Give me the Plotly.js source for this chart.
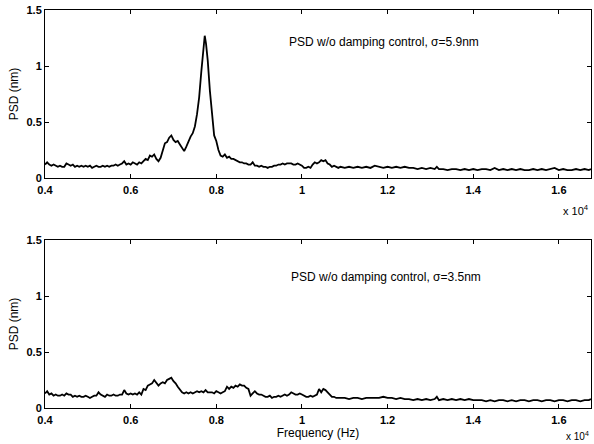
<!DOCTYPE html>
<html>
<head>
<meta charset="utf-8">
<script src="https://cdn.plot.ly/plotly-3.0.1.min.js"></script>
<style>
  html, body { margin: 0; padding: 0; background: #fff; }
  #chart { width: 594px; height: 444px; }
</style>
</head>
<body>
<div id="chart"></div>
<script>
// Frequency grid (Hz) and PSD values (nm) for the two spectra
const freqTop = [4000,4050,4100,4150,4200,4250,4300,4350,4400,4450,4500,4550,4600,4650,4700,4750,4800,4850,4900,4950,
  5000,5050,5100,5150,5200,5250,5300,5350,5400,5450,5500,5550,5600,5650,5700,5750,5800,5850,5900,5950,
  6000,6050,6100,6150,6200,6250,6300,6350,6400,6450,6500,6550,6600,6650,6700,6750,6800,6850,6900,6950,
  7000,7050,7100,7150,7200,7250,7300,7350,7400,7450,7500,7550,7600,7650,7700,7730,7760,7800,7850,7900,7950,
  8000,8050,8100,8150,8200,8250,8300,8350,8400,8450,8500,8550,8600,8650,8700,8750,8800,8850,8900,8950,
  9000,9050,9100,9150,9200,9250,9300,9350,9400,9450,9500,9550,9600,9650,9700,9750,9800,9850,9900,9950,
  10000,10050,10100,10150,10200,10250,10300,10350,10400,10450,10500,10550,10600,10650,10700,10750,10800,10850,
  10900,11000,11100,11200,11300,11400,11500,11600,11700,11800,11900,12000,12100,12200,12300,12400,12500,12600,12700,12800,12900,
  13000,13100,13150,13200,13300,13400,13500,13600,13700,13800,13900,14000,14100,14200,14300,14400,14500,14600,14700,14800,14900,
  15000,15100,15200,15300,15400,15500,15600,15700,15800,15900,16000,16100,16200,16300,16400,16500,16600,16700,16750];
const psdTop = [0.12,0.14,0.12,0.11,0.12,0.11,0.10,0.11,0.10,0.10,0.13,0.12,0.11,0.12,0.10,0.11,0.10,0.11,0.10,0.11,
  0.10,0.11,0.09,0.10,0.11,0.10,0.10,0.11,0.10,0.11,0.10,0.11,0.11,0.12,0.11,0.12,0.13,0.15,0.12,0.13,
  0.12,0.14,0.13,0.12,0.14,0.13,0.15,0.17,0.16,0.20,0.19,0.21,0.17,0.15,0.18,0.24,0.31,0.32,0.36,0.38,
  0.34,0.32,0.33,0.30,0.27,0.24,0.28,0.33,0.37,0.40,0.46,0.57,0.72,0.95,1.17,1.27,1.20,1.05,0.78,0.56,0.38,
  0.33,0.25,0.20,0.19,0.21,0.18,0.19,0.17,0.17,0.16,0.15,0.14,0.14,0.13,0.13,0.12,0.12,0.14,0.11,0.11,
  0.10,0.11,0.10,0.10,0.09,0.10,0.10,0.11,0.11,0.12,0.12,0.13,0.12,0.13,0.13,0.13,0.12,0.12,0.13,0.12,
  0.11,0.09,0.09,0.10,0.09,0.12,0.14,0.13,0.14,0.16,0.15,0.16,0.13,0.12,0.10,0.11,0.10,0.09,
  0.10,0.09,0.10,0.09,0.10,0.09,0.10,0.09,0.11,0.10,0.09,0.10,0.09,0.10,0.09,0.10,0.09,0.09,0.08,0.09,0.08,
  0.09,0.08,0.10,0.08,0.08,0.07,0.08,0.08,0.07,0.08,0.07,0.08,0.07,0.08,0.08,0.07,0.09,0.07,0.08,0.07,0.08,
  0.07,0.08,0.07,0.07,0.08,0.07,0.08,0.07,0.08,0.09,0.07,0.08,0.07,0.07,0.08,0.07,0.08,0.07,0.08];

const freqBottom = [4000,4050,4100,4150,4200,4250,4300,4350,4400,4450,4500,4550,4600,4650,4700,4750,4800,4850,4900,4950,
  5000,5050,5100,5150,5200,5250,5300,5350,5400,5450,5500,5550,5600,5650,5700,5750,5800,5850,5900,5950,
  6000,6050,6100,6150,6200,6250,6300,6350,6400,6450,6500,6550,6600,6650,6700,6750,6800,6850,6900,6950,
  7000,7050,7100,7150,7200,7250,7300,7350,7400,7450,7500,7550,7600,7650,7700,7750,7800,7850,7900,7950,
  8000,8050,8100,8150,8200,8250,8300,8350,8400,8450,8500,8550,8600,8650,8700,8750,8800,8850,8900,8950,
  9000,9050,9100,9150,9200,9250,9300,9350,9400,9450,9500,9550,9600,9650,9700,9750,9800,9850,9900,9950,
  10000,10050,10100,10150,10200,10250,10300,10350,10400,10450,10500,10550,10600,10650,10700,10750,10800,
  10900,11000,11100,11200,11300,11400,11500,11600,11700,11800,11900,12000,12100,12200,12300,12400,12500,12600,12700,12800,12900,
  13000,13100,13150,13200,13300,13400,13500,13600,13700,13800,13900,14000,14100,14200,14300,14400,14500,14600,14700,14800,14900,
  15000,15100,15200,15300,15400,15500,15600,15700,15800,15900,16000,16100,16200,16300,16400,16500,16600,16700,16750];
const psdBottom = [0.13,0.15,0.12,0.13,0.11,0.12,0.11,0.11,0.12,0.11,0.13,0.12,0.12,0.10,0.11,0.10,0.11,0.10,0.10,0.11,
  0.10,0.09,0.10,0.11,0.11,0.14,0.12,0.11,0.10,0.12,0.11,0.11,0.12,0.11,0.11,0.12,0.12,0.16,0.13,0.12,
  0.13,0.12,0.13,0.12,0.14,0.12,0.17,0.16,0.20,0.21,0.22,0.25,0.22,0.20,0.22,0.23,0.22,0.25,0.26,0.27,
  0.24,0.22,0.19,0.16,0.14,0.13,0.14,0.13,0.14,0.13,0.14,0.15,0.14,0.15,0.14,0.16,0.14,0.14,0.14,0.13,
  0.15,0.14,0.13,0.14,0.15,0.19,0.17,0.19,0.18,0.20,0.19,0.21,0.20,0.20,0.18,0.17,0.11,0.13,0.15,0.13,
  0.12,0.12,0.11,0.10,0.10,0.11,0.09,0.10,0.10,0.11,0.10,0.11,0.12,0.11,0.12,0.14,0.13,0.12,0.12,0.13,
  0.12,0.11,0.10,0.10,0.11,0.10,0.11,0.12,0.17,0.14,0.17,0.16,0.14,0.12,0.10,0.10,0.09,
  0.09,0.09,0.08,0.09,0.09,0.08,0.09,0.09,0.09,0.09,0.10,0.09,0.09,0.08,0.09,0.08,0.08,0.07,0.08,0.07,0.08,
  0.07,0.08,0.10,0.07,0.08,0.07,0.08,0.07,0.08,0.07,0.08,0.07,0.07,0.07,0.06,0.07,0.06,0.07,0.07,0.06,0.07,
  0.06,0.07,0.07,0.06,0.07,0.07,0.06,0.07,0.07,0.06,0.07,0.07,0.06,0.07,0.07,0.06,0.07,0.07,0.08];

const xTickVals = [4000,6000,8000,10000,12000,14000,16000];
const xTickText = ['0.4','0.6','0.8','1','1.2','1.4','1.6'];
const yTickVals = [0,0.5,1,1.5];
const yTickText = ['0','0.5','1','1.5'];
const labelTop = 'PSD w/o damping control, σ=5.9nm';
const labelBottom = 'PSD w/o damping control, σ=3.5nm';
const xScaleLabel = 'x 10<sup>4</sup>';

const FONT = 'Liberation Sans, Arial, Helvetica, sans-serif';

const traces = [
  {x: freqTop, y: psdTop, xaxis: 'x', yaxis: 'y', type: 'scatter', mode: 'lines',
   line: {color: '#000', width: 1.8}, hoverinfo: 'skip'},
  {x: freqBottom, y: psdBottom, xaxis: 'x2', yaxis: 'y2', type: 'scatter', mode: 'lines',
   line: {color: '#000', width: 1.8}, hoverinfo: 'skip'}
];

function xAxis(anchor, titleText) {
  const ax = {
    anchor: anchor, domain: [0, 1], range: [4000, 16750],
    tickmode: 'array', tickvals: xTickVals, ticktext: xTickText,
    ticks: 'inside', ticklen: 4, tickcolor: '#000', tickwidth: 1,
    showline: true, linecolor: '#000', linewidth: 1, mirror: 'ticks',
    showgrid: false, zeroline: false, ticklabelstandoff: 2,
    tickfont: {family: FONT, size: 11, color: '#000', weight: 'bold'}
  };
  if (titleText) {
    ax.title = {text: titleText, font: {family: FONT, size: 12, color: '#000'}, standoff: 3};
  }
  return ax;
}
function yAxis(anchor, domain) {
  return {
    anchor: anchor, domain: domain, range: [0, 1.5],
    tickmode: 'array', tickvals: yTickVals, ticktext: yTickText,
    ticks: 'inside', ticklen: 4, tickcolor: '#000', tickwidth: 1,
    showline: true, linecolor: '#000', linewidth: 1, mirror: 'ticks',
    showgrid: false, zeroline: false,
    tickfont: {family: FONT, size: 11, color: '#000', weight: 'bold'},
    title: {text: 'PSD (nm)', font: {family: FONT, size: 12, color: '#000'}, standoff: 5}
  };
}

const layout = {
  width: 594, height: 444,
  margin: {l: 45, r: 3, t: 10, b: 36},
  paper_bgcolor: '#fff', plot_bgcolor: '#fff',
  showlegend: false,
  xaxis: xAxis('y', ''),
  yaxis: yAxis('x', [0.5779, 1]),
  xaxis2: xAxis('y2', 'Frequency (Hz)'),
  yaxis2: yAxis('x2', [0, 0.4221]),
  annotations: [
    {xref: 'x', yref: 'y', x: 9650, y: 1.21, xanchor: 'left', yanchor: 'middle', showarrow: false,
     text: labelTop, font: {family: FONT, size: 12, color: '#000'}},
    {xref: 'x2', yref: 'y2', x: 9700, y: 1.17, xanchor: 'left', yanchor: 'middle', showarrow: false,
     text: labelBottom, font: {family: FONT, size: 12, color: '#000'}},
    {xref: 'paper', yref: 'paper', x: 1, y: 0.52, xanchor: 'right', yanchor: 'top', showarrow: false,
     text: xScaleLabel, font: {family: FONT, size: 11, color: '#000'}},
    {xref: 'paper', yref: 'paper', x: 1, y: -0.05, xanchor: 'right', yanchor: 'top', showarrow: false,
     text: xScaleLabel, font: {family: FONT, size: 10, color: '#000'}}
  ]
};

Plotly.newPlot('chart', traces, layout, {staticPlot: true, displayModeBar: false});
</script>
</body>
</html>
